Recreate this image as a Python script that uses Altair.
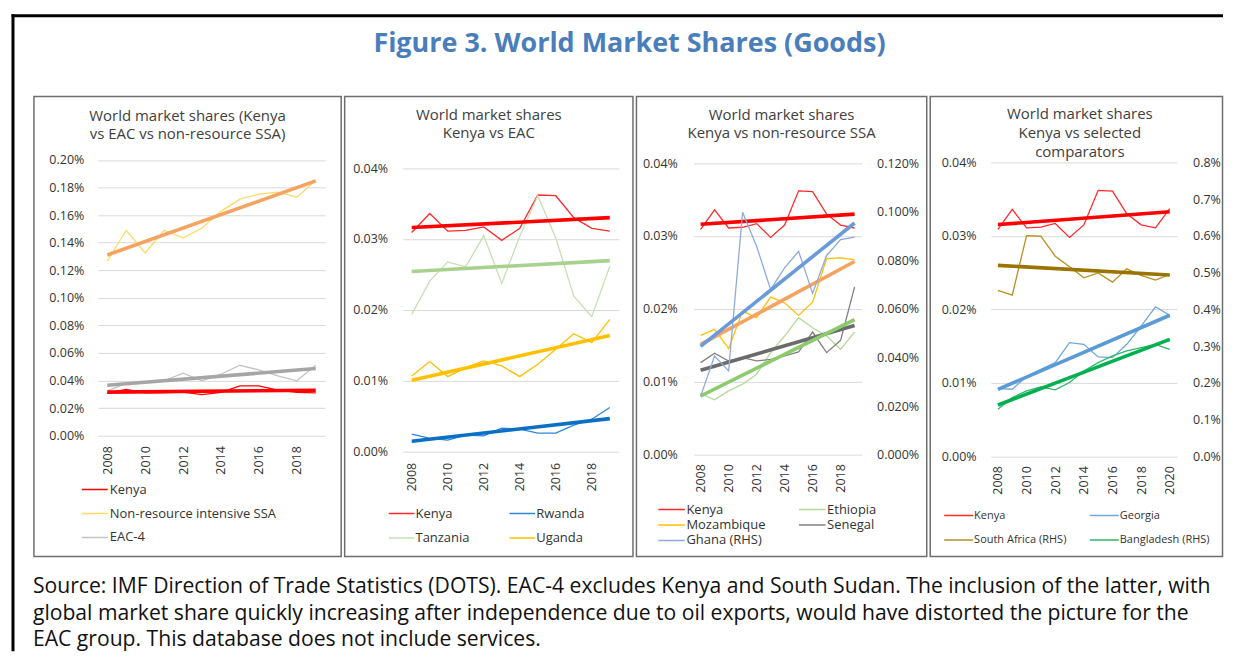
import altair as alt
import pandas as pd

FONT = "Open Sans"
LABEL_COLOR = "#333333"
TITLE_COLOR = "#404040"
GRID_COLOR = "#D9D9D9"

# ---------------- data (world market shares, in percent) ----------------
YEARS_A = list(range(2008, 2020))
YEARS_B = list(range(2008, 2021))

KENYA = [0.0309, 0.0336, 0.0311, 0.0312, 0.0317, 0.0298, 0.0315, 0.0362, 0.0361, 0.0330, 0.0315, 0.0311]
KENYA_2020 = [0.0337]
NON_RES_SSA = [0.1265, 0.149, 0.1325, 0.149, 0.1434, 0.1506, 0.1627, 0.1716, 0.1752, 0.1766, 0.173, 0.185]
EAC4 = [0.0325, 0.038, 0.039, 0.0398, 0.0453, 0.0398, 0.0446, 0.0511, 0.0477, 0.0434, 0.0398, 0.0511]
RWANDA = [0.00244, 0.00183, 0.0016, 0.0023, 0.0022, 0.00329, 0.00315, 0.00258, 0.00258, 0.00371, 0.00455, 0.0062]
TANZANIA = [0.01934, 0.02404, 0.02676, 0.02606, 0.03047, 0.02371, 0.03038, 0.0361, 0.03014, 0.02192, 0.01901, 0.02615]
UGANDA = [0.01066, 0.01268, 0.01056, 0.01183, 0.01277, 0.01207, 0.01056, 0.0123, 0.01441, 0.01662, 0.01535, 0.01864]
ETHIOPIA = [0.00839, 0.00753, 0.00876, 0.00967, 0.01104, 0.014, 0.01628, 0.01879, 0.01742, 0.01628, 0.01446, 0.01683]
MOZAMBIQUE = [0.01637, 0.0172, 0.01455, 0.0197, 0.0188, 0.02162, 0.02084, 0.01911, 0.02093, 0.02691, 0.027, 0.02677]
SENEGAL = [0.01263, 0.01391, 0.01286, 0.01332, 0.01286, 0.01309, 0.01355, 0.01409, 0.01683, 0.014, 0.01569, 0.02303]
GHANA_RHS = [0.024, 0.0406, 0.0345, 0.0998, 0.0858, 0.068, 0.0769, 0.0837, 0.0664, 0.082, 0.0885, 0.0895]
GEORGIA = [0.00923, 0.00914, 0.01086, 0.01186, 0.01276, 0.01548, 0.01525, 0.01353, 0.01344, 0.01525, 0.01774, 0.02036, 0.01919]
SOUTH_AFRICA_RHS = [0.4516, 0.4389, 0.6009, 0.5991, 0.5448, 0.5158, 0.486, 0.4995, 0.4742, 0.5104, 0.4923, 0.4796, 0.495]
BANGLADESH_RHS = [0.1285, 0.1602, 0.1783, 0.1891, 0.181, 0.2009, 0.2326, 0.2552, 0.2733, 0.2869, 0.2959, 0.305, 0.2914]

FIGURE_TITLE = "Figure 3. World Market Shares (Goods)"
SOURCE_LINES = [
    "Source: IMF Direction of Trade Statistics (DOTS). EAC-4 excludes Kenya and South Sudan. The inclusion of the latter, with",
    "global market share quickly increasing after independence due to oil exports, would have distorted the picture for the",
    "EAC group. This database does not include services.",
]
PANEL_TITLES = [
    ["World market shares (Kenya", "vs EAC vs non-resource SSA)"],
    ["World market shares", "Kenya vs EAC"],
    ["World market shares", "Kenya vs non-resource SSA"],
    ["World market shares", "Kenya vs selected", "comparators"],
]

Y_TICKS_SMALL = [0, 0.01, 0.02, 0.03, 0.04]
Y_TICKS_P1 = [0, 0.02, 0.04, 0.06, 0.08, 0.10, 0.12, 0.14, 0.16, 0.18, 0.20]
Y_TICKS_P3R = [0, 0.02, 0.04, 0.06, 0.08, 0.10, 0.12]
Y_TICKS_P4R = [0, 0.1, 0.2, 0.3, 0.4, 0.5, 0.6, 0.7, 0.8]
X_TICKS_A = [2008, 2010, 2012, 2014, 2016, 2018]
X_TICKS_B = [2008, 2010, 2012, 2014, 2016, 2018, 2020]


def long_df(years, series):
    rows = []
    for name, vals in series:
        for yr, v in zip(years, vals):
            rows.append({"year": yr, "value": v, "series": name})
    return pd.DataFrame(rows)


ONE = pd.DataFrame({"k": [0]})


def x_enc(dom, rng, vals, off, pad):
    return alt.X("year:Q", scale=alt.Scale(domain=dom, range=rng, nice=False, zero=False),
                 axis=alt.Axis(values=vals, format="d", labelAngle=270, offset=off, labelPadding=pad,
                               ticks=False, tickSize=0, domain=False, grid=False, title=None,
                               labelFont=FONT, labelFontSize=12.5, labelColor=LABEL_COLOR,
                               labelFlush=False, labelOverlap=False))


def y_enc(dom, rng, vals, fmt, off, orient, grid):
    return alt.Y("value:Q", scale=alt.Scale(domain=dom, range=rng, nice=False, zero=False),
                 axis=alt.Axis(values=vals, orient=orient,
                               labelExpr="format(datum.value, '" + fmt + "') + '%'",
                               offset=off, labelPadding=0, ticks=False, tickSize=0, domain=False,
                               grid=grid, gridColor=GRID_COLOR, gridWidth=1, title=None,
                               labelFont=FONT, labelFontSize=12.5, labelColor=LABEL_COLOR,
                               labelFlush=False, labelOverlap=False))


def thin(df, xe, ye, domain, colors, legend):
    return alt.Chart(df).mark_line(strokeWidth=1.3).encode(
        x=xe, y=ye,
        color=alt.Color("series:N", scale=alt.Scale(domain=domain, range=colors), legend=legend))


def trend(df, xe, ye, name, color):
    return (alt.Chart(df).transform_filter(alt.datum.series == name)
            .transform_regression("year", "value")
            .mark_line(strokeWidth=3.6, color=color).encode(x=xe, y=ye))


def title_layer(lines, cx, cy, lh):
    return alt.Chart(ONE).mark_text(text=lines, font=FONT, fontSize=15, color=TITLE_COLOR,
                                    align="center", baseline="middle", lineHeight=lh).encode(
        x=alt.value(cx), y=alt.value(cy))


def legend(x, y, cols, size, loff, rowpad, clip, colpad, fs=13):
    return alt.Legend(orient="none", legendX=x, legendY=y, title=None, columns=cols,
                      direction="horizontal",
                      symbolType="stroke", symbolSize=size, symbolStrokeWidth=1.5,
                      labelFont=FONT, labelFontSize=fs, labelColor=LABEL_COLOR, labelOffset=loff,
                      rowPadding=rowpad, clipHeight=clip, columnPadding=colpad, padding=0,
                      labelLimit=300)


H = 461

# ---------------- panel 1 ----------------
W1 = 308
d1 = long_df(YEARS_A, [("Kenya", KENYA), ("Non-resource intensive SSA", NON_RES_SSA), ("EAC-4", EAC4)])
x1 = x_enc([2007.5, 2019.5], [64, 292], X_TICKS_A, -121, 10)
y1 = y_enc([0, 0.2], [340, 63.5], Y_TICKS_P1, ".2f", -50, "left", True)
dom1 = ["Kenya", "Non-resource intensive SSA", "EAC-4"]
col1 = ["#FF0000", "#FFD966", "#C4C4C4"]
tr1 = [("Kenya", "#FF0000"), ("Non-resource intensive SSA", "#F4A460"), ("EAC-4", "#A6A6A6")]

bbox = alt.Chart(ONE).mark_rect(opacity=0, fill="white").encode(
    x=alt.value(-25), x2=alt.value(1192), y=alt.value(-87), y2=alt.value(556))
frame_left = alt.Chart(ONE).mark_rule(color="black", strokeWidth=3).encode(
    x=alt.value(-21), y=alt.value(-82.5), y2=alt.value(556))
frame_top = alt.Chart(ONE).mark_rule(color="black", strokeWidth=3).encode(
    x=alt.value(-22.5), x2=alt.value(1192), y=alt.value(-81))
fig_title = alt.Chart(ONE).mark_text(text=FIGURE_TITLE, font=FONT, fontSize=27, fontWeight="bold",
                                     color="#4A7EBB", align="center", baseline="middle").encode(
    x=alt.value(597), y=alt.value(-53))
source = alt.Chart(ONE).mark_text(text=SOURCE_LINES, font=FONT, fontSize=21.2, color="#111111",
                                  align="left", baseline="alphabetic", lineHeight=26.5).encode(
    x=alt.value(-1), y=alt.value(498))

p1 = alt.layer(
    bbox, frame_left, frame_top, fig_title, source,
    title_layer(PANEL_TITLES[0], W1 / 2, 19, 19),
    thin(d1, x1, y1, dom1, col1, legend(47, 387, 1, 676, 1, 10, 14, 20)),
    *[trend(d1, x1, y1, n, c) for n, c in tr1],
).properties(width=W1, height=H)

# ---------------- panel 2 ----------------
W2 = 289
d2 = long_df(YEARS_A, [("Kenya", KENYA), ("Rwanda", RWANDA), ("Tanzania", TANZANIA), ("Uganda", UGANDA)])
x2 = x_enc([2007.5, 2019.5], [58.2, 274.8], X_TICKS_A, -105.3, 11)
y2 = y_enc([0, 0.04], [355.7, 71.7], Y_TICKS_SMALL, ".2f", -43, "left", True)
dom2 = ["Kenya", "Rwanda", "Tanzania", "Uganda"]
col2 = ["#FF2A2A", "#2E86D9", "#C5E0B4", "#FFC000"]
tr2 = [("Kenya", "#FF0000"), ("Tanzania", "#A9D18E"), ("Uganda", "#FFC000"), ("Rwanda", "#0B6FC6")]

p2 = alt.layer(
    title_layer(PANEL_TITLES[1], W2 / 2, 18, 19),
    thin(d2, x2, y2, dom2, col2, legend(43, 411, 2, 655, 0, 10.4, 14, 38)),
    *[trend(d2, x2, y2, n, c) for n, c in tr2],
).properties(width=W2, height=H)

# ---------------- panel 3 ----------------
W3 = 291
d3l = long_df(YEARS_A, [("Kenya", KENYA), ("Mozambique", MOZAMBIQUE), ("Ethiopia", ETHIOPIA), ("Senegal", SENEGAL)])
d3r = long_df(YEARS_A, [("Ghana (RHS)", GHANA_RHS)])
x3 = x_enc([2007.5, 2019.5], [57.3, 225.7], X_TICKS_A, -102, 9)
y3l = y_enc([0, 0.04], [359, 66.7], Y_TICKS_SMALL, ".2f", -41, "left", True)
y3r = y_enc([0, 0.12], [359, 66.7], Y_TICKS_P3R, ".3f", -50.3, "right", False)
dom3 = ["Kenya", "Ethiopia", "Mozambique", "Senegal", "Ghana (RHS)"]
col3 = ["#FF2A2A", "#B5D99C", "#FFC000", "#808080", "#8FAADC"]
leg3 = legend(20.7, 407, 2, 708, 0.4, 1.5, 14, 32)
left3 = alt.layer(
    thin(d3l, x3, y3l, dom3, col3, leg3),
    trend(d3l, x3, y3l, "Kenya", "#FF0000"),
    trend(d3l, x3, y3l, "Mozambique", "#F4A460"),
    trend(d3l, x3, y3l, "Senegal", "#6B6B6B"),
    trend(d3l, x3, y3l, "Ethiopia", "#8CCB6C"),
)
right3 = alt.layer(
    thin(d3r, x3, y3r, dom3, col3, leg3),
    trend(d3r, x3, y3r, "Ghana (RHS)", "#6A9AD8"),
)
p3 = alt.layer(
    title_layer(PANEL_TITLES[2], W3 / 2, 18, 19), left3, right3,
).resolve_scale(y="independent").properties(width=W3, height=H)

# ---------------- panel 4 ----------------
W4 = 293
d4l = long_df(YEARS_B, [("Kenya", KENYA + KENYA_2020), ("Georgia", GEORGIA)])
d4r = long_df(YEARS_B, [("South Africa (RHS)", SOUTH_AFRICA_RHS), ("Bangladesh (RHS)", BANGLADESH_RHS)])
x4 = x_enc([2007.5, 2020.5], [60.7, 247.3], X_TICKS_B, -100.3, 9.3)
y4l = y_enc([0, 0.04], [360.7, 66], Y_TICKS_SMALL, ".2f", -46, "left", True)
y4r = y_enc([0, 0.8], [360.7, 66], Y_TICKS_P4R, ".1f", -30, "right", False)
dom4 = ["Kenya", "Georgia", "South Africa (RHS)", "Bangladesh (RHS)"]
col4 = ["#FF2A2A", "#6FA8DC", "#B8901E", "#2DB86A"]
leg4 = legend(13, 414, 2, 841, 0, 12.4, 12, 22, fs=11)
left4 = alt.layer(
    thin(d4l, x4, y4l, dom4, col4, leg4),
    trend(d4l, x4, y4l, "Kenya", "#FF0000"),
    trend(d4l, x4, y4l, "Georgia", "#5B9BD5"),
)
right4 = alt.layer(
    thin(d4r, x4, y4r, dom4, col4, leg4),
    trend(d4r, x4, y4r, "South Africa (RHS)", "#9A7400"),
    trend(d4r, x4, y4r, "Bangladesh (RHS)", "#00B050"),
)
p4 = alt.layer(
    title_layer(PANEL_TITLES[3], 150, 17, 19.5), left4, right4,
).resolve_scale(y="independent").properties(width=W4, height=H)

chart = alt.hconcat(p1, p2, p3, p4, spacing=3.5, bounds="flush").resolve_scale(
    color="independent"
).properties(
    padding=0
).configure_view(stroke="#6E6E6E", strokeWidth=1.5)

chart.save("out.html", embed_options={"renderer": "svg", "actions": False})
